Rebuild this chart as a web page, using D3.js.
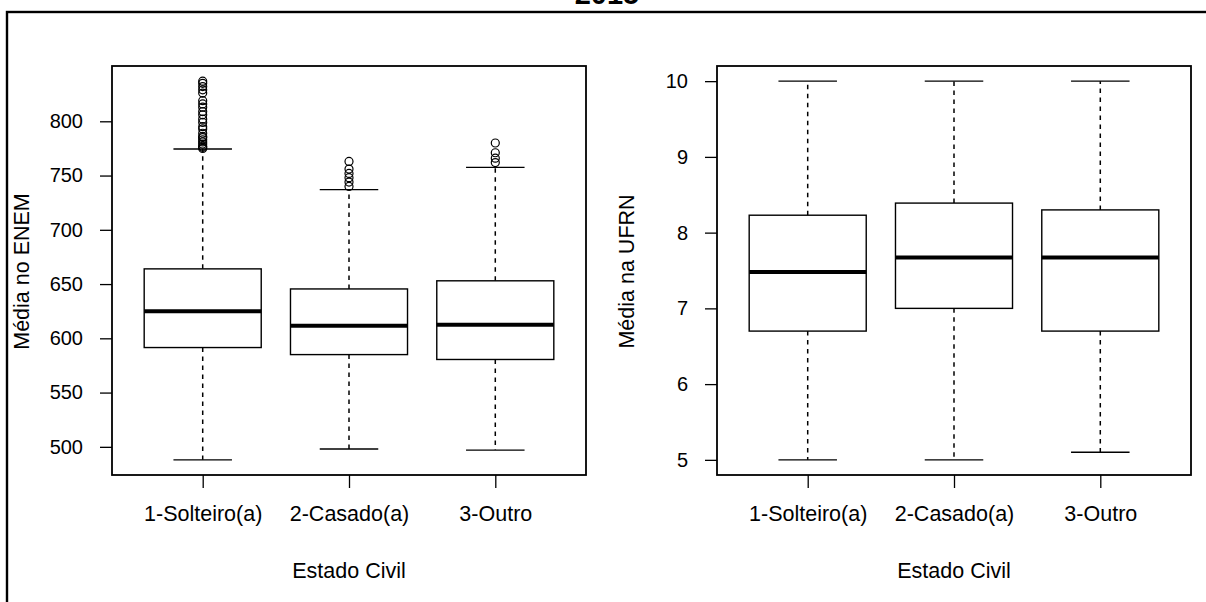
<!DOCTYPE html>
<html>
<head>
<meta charset="utf-8">
<script src="https://cdn.jsdelivr.net/npm/d3@7"></script>
<style>
  body { margin: 0; background: #fff; }
  svg { display: block; font-family: "Liberation Sans", Arial, sans-serif; }
</style>
</head>
<body>
<svg id="chart" width="1206" height="602"></svg>
<script>
const categories = ["1-Solteiro(a)", "2-Casado(a)", "3-Outro"];

// ENEM box stats
const enemLower = [488, 498, 497];
const enemQ1 = [591.5, 585, 580.5];
const enemMedian = [625, 611.5, 612.5];
const enemQ3 = [664, 645.5, 653];
const enemUpper = [774.5, 737, 757.5];
const enemOutliers = [
  [837, 835, 832, 829, 826, 819, 816, 813, 809, 806, 802, 799, 795, 793, 789, 786, 785, 783, 781, 779, 777, 776, 775],
  [763, 756, 752, 748, 744, 740],
  [780, 771, 766, 762],
];
const enemTicks = [500, 550, 600, 650, 700, 750, 800];

// UFRN box stats
const ufrnLower = [5, 5, 5.1];
const ufrnQ1 = [6.7, 7.0, 6.7];
const ufrnMedian = [7.48, 7.67, 7.67];
const ufrnQ3 = [8.23, 8.39, 8.3];
const ufrnUpper = [10, 10, 10];
const ufrnOutliers = [[], [], []];
const ufrnTicks = [5, 6, 7, 8, 9, 10];

const svg = d3.select("#chart");
const tickFont = 20;
const labelFont = 21.5;

// outer frame + (clipped) title
svg.append("rect")
  .attr("x", 7).attr("y", 12)
  .attr("width", 1260).attr("height", 700)
  .attr("fill", "none").attr("stroke", "#000").attr("stroke-width", 2.4);

svg.append("text")
  .attr("x", 607).attr("y", 3.5)
  .attr("text-anchor", "middle")
  .attr("font-size", 29).attr("font-weight", "bold")
  .text("2015");

function drawPanel(o) {
  const top = 66, bottom = 475;
  const n = categories.length;

  // R style: 4% extension of the data range
  const all = o.lower.concat(o.upper, o.outliers.flat());
  let lo = d3.min(all), hi = d3.max(all);
  const pad = (hi - lo) * 0.04;
  const y = d3.scaleLinear().domain([lo - pad, hi + pad]).range([bottom, top]);

  const xpad = n * 0.04;
  const x = d3.scaleLinear().domain([0.5 - xpad, n + 0.5 + xpad]).range([o.left, o.right]);

  const g = svg.append("g");

  // y axis
  g.append("g")
    .attr("transform", `translate(${o.left},0)`)
    .call(d3.axisLeft(y).tickValues(o.ticks).tickSize(12).tickPadding(17).tickFormat(d3.format("d")))
    .call((a) => a.select(".domain").remove())
    .call((a) => a.selectAll("line").attr("stroke-width", 1.3))
    .call((a) => a.selectAll("text").attr("font-size", tickFont).attr("font-family", null).attr("fill", "#000"));

  // x axis
  g.append("g")
    .attr("transform", `translate(0,${bottom})`)
    .call(d3.axisBottom(x).tickValues(d3.range(1, n + 1)).tickSize(13).tickPadding(18)
      .tickFormat((d) => categories[d - 1]))
    .call((a) => a.select(".domain").remove())
    .call((a) => a.selectAll("line").attr("stroke-width", 1.3))
    .call((a) => a.selectAll("text").attr("font-size", labelFont).attr("font-family", null).attr("fill", "#000"));

  // boxes
  const rows = categories.map((c, i) => ({
    i: i + 1, lower: o.lower[i], q1: o.q1[i], med: o.median[i], q3: o.q3[i], upper: o.upper[i], out: o.outliers[i],
  }));
  const bw = 0.4, cw = 0.2;
  const b = g.selectAll(".box").data(rows).join("g").attr("class", "box");

  b.append("line")
    .attr("x1", (d) => x(d.i)).attr("x2", (d) => x(d.i))
    .attr("y1", (d) => y(d.q3)).attr("y2", (d) => y(d.upper))
    .attr("stroke", "#000").attr("stroke-width", 1.5).attr("stroke-dasharray", "4.5,4.5");
  b.append("line")
    .attr("x1", (d) => x(d.i)).attr("x2", (d) => x(d.i))
    .attr("y1", (d) => y(d.q1)).attr("y2", (d) => y(d.lower))
    .attr("stroke", "#000").attr("stroke-width", 1.5).attr("stroke-dasharray", "4.5,4.5");
  b.selectAll(".cap").data((d) => [d.upper, d.lower].map((v) => ({ i: d.i, v })))
    .join("line").attr("class", "cap")
    .attr("x1", (d) => x(d.i - cw)).attr("x2", (d) => x(d.i + cw))
    .attr("y1", (d) => y(d.v)).attr("y2", (d) => y(d.v))
    .attr("stroke", "#000").attr("stroke-width", 1.4);
  b.append("rect")
    .attr("x", (d) => x(d.i - bw)).attr("width", (d) => x(d.i + bw) - x(d.i - bw))
    .attr("y", (d) => y(d.q3)).attr("height", (d) => y(d.q1) - y(d.q3))
    .attr("fill", "#fff").attr("stroke", "#000").attr("stroke-width", 1.4);
  b.append("line")
    .attr("x1", (d) => x(d.i - bw)).attr("x2", (d) => x(d.i + bw))
    .attr("y1", (d) => y(d.med)).attr("y2", (d) => y(d.med))
    .attr("stroke", "#000").attr("stroke-width", 4);
  b.selectAll("circle").data((d) => d.out.map((v) => ({ i: d.i, v })))
    .join("circle")
    .attr("cx", (d) => x(d.i)).attr("cy", (d) => y(d.v)).attr("r", 4)
    .attr("fill", "none").attr("stroke", "#000").attr("stroke-width", 1.2);

  // plot frame
  g.append("rect")
    .attr("x", o.left).attr("y", top)
    .attr("width", o.right - o.left).attr("height", bottom - top)
    .attr("fill", "none").attr("stroke", "#000").attr("stroke-width", 1.8);

  // titles
  g.append("text")
    .attr("transform", `translate(${o.left - 83},${(top + bottom) / 2 + 1}) rotate(-90)`)
    .attr("text-anchor", "middle").attr("font-size", labelFont)
    .text(o.ylabel);
  g.append("text")
    .attr("x", (o.left + o.right) / 2).attr("y", 578)
    .attr("text-anchor", "middle").attr("font-size", labelFont)
    .text("Estado Civil");
}

drawPanel({
  left: 112, right: 586, ticks: enemTicks, ylabel: "Média no ENEM",
  lower: enemLower, q1: enemQ1, median: enemMedian, q3: enemQ3, upper: enemUpper, outliers: enemOutliers,
});
drawPanel({
  left: 717, right: 1191, ticks: ufrnTicks, ylabel: "Média na UFRN",
  lower: ufrnLower, q1: ufrnQ1, median: ufrnMedian, q3: ufrnQ3, upper: ufrnUpper, outliers: ufrnOutliers,
});
</script>
</body>
</html>
